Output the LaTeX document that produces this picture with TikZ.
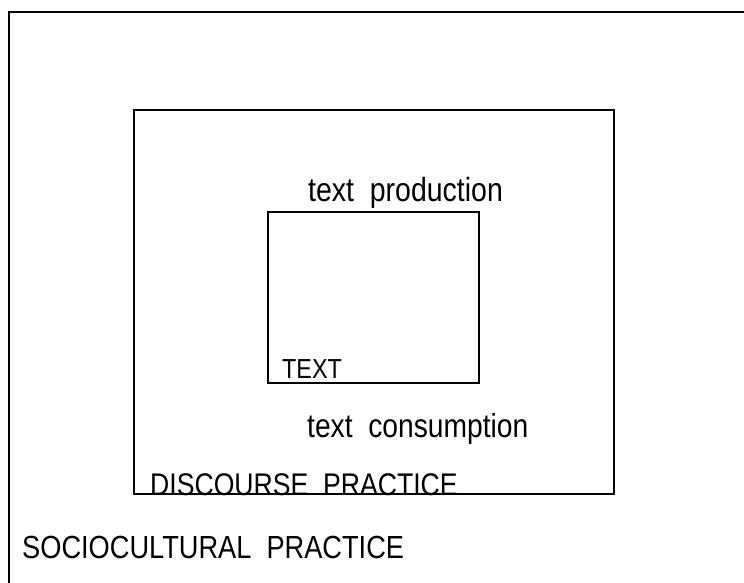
\documentclass[tikz,border=0pt]{standalone}
\usepackage{fontspec}
\usepackage{tikz}
\usetikzlibrary{positioning}
\newfontfamily\lblfont[FakeStretch=0.85]{Liberation Sans}

\begin{document}
\begin{tikzpicture}[x=1pt, y=-1pt,
        frame/.style={draw, line width=2.6pt, inner sep=0pt},
        lbl/.style={anchor=base west, inner sep=0pt, font=\lblfont\fontsize{32}{38}\selectfont}
    ]
        \useasboundingbox (0,0) rectangle (744,583);
        % outer practice box, cut by the page edge
        \coordinate (SCa) at (9,583);
        \coordinate (SCb) at (744,12);
        \draw[line width=2.6pt] (SCa) |- (SCb);
        \node[frame, minimum width=480pt, minimum height=384pt] (DP) at (374,302) {};
        \node[frame, minimum width=211pt, minimum height=171pt] (TX) at (373.5,297.5) {};
        \foreach \name/\x/\y/\size/\content in {
                prod/308/201/33.5/{text~~production},
                cons/307/437/33.2/{text~~consumption},
                disc/150/495/31.3/{DISCOURSE~~PRACTICE},
                soc/22/558/32/{SOCIOCULTURAL~~PRACTICE},
                txt/282/378/27.5/{TEXT}
                } {
            \node[lbl, font=\lblfont\fontsize{\size}{38}\selectfont] (\name) at (\x,\y) {\content};
        }
    \end{tikzpicture}
\end{document}
